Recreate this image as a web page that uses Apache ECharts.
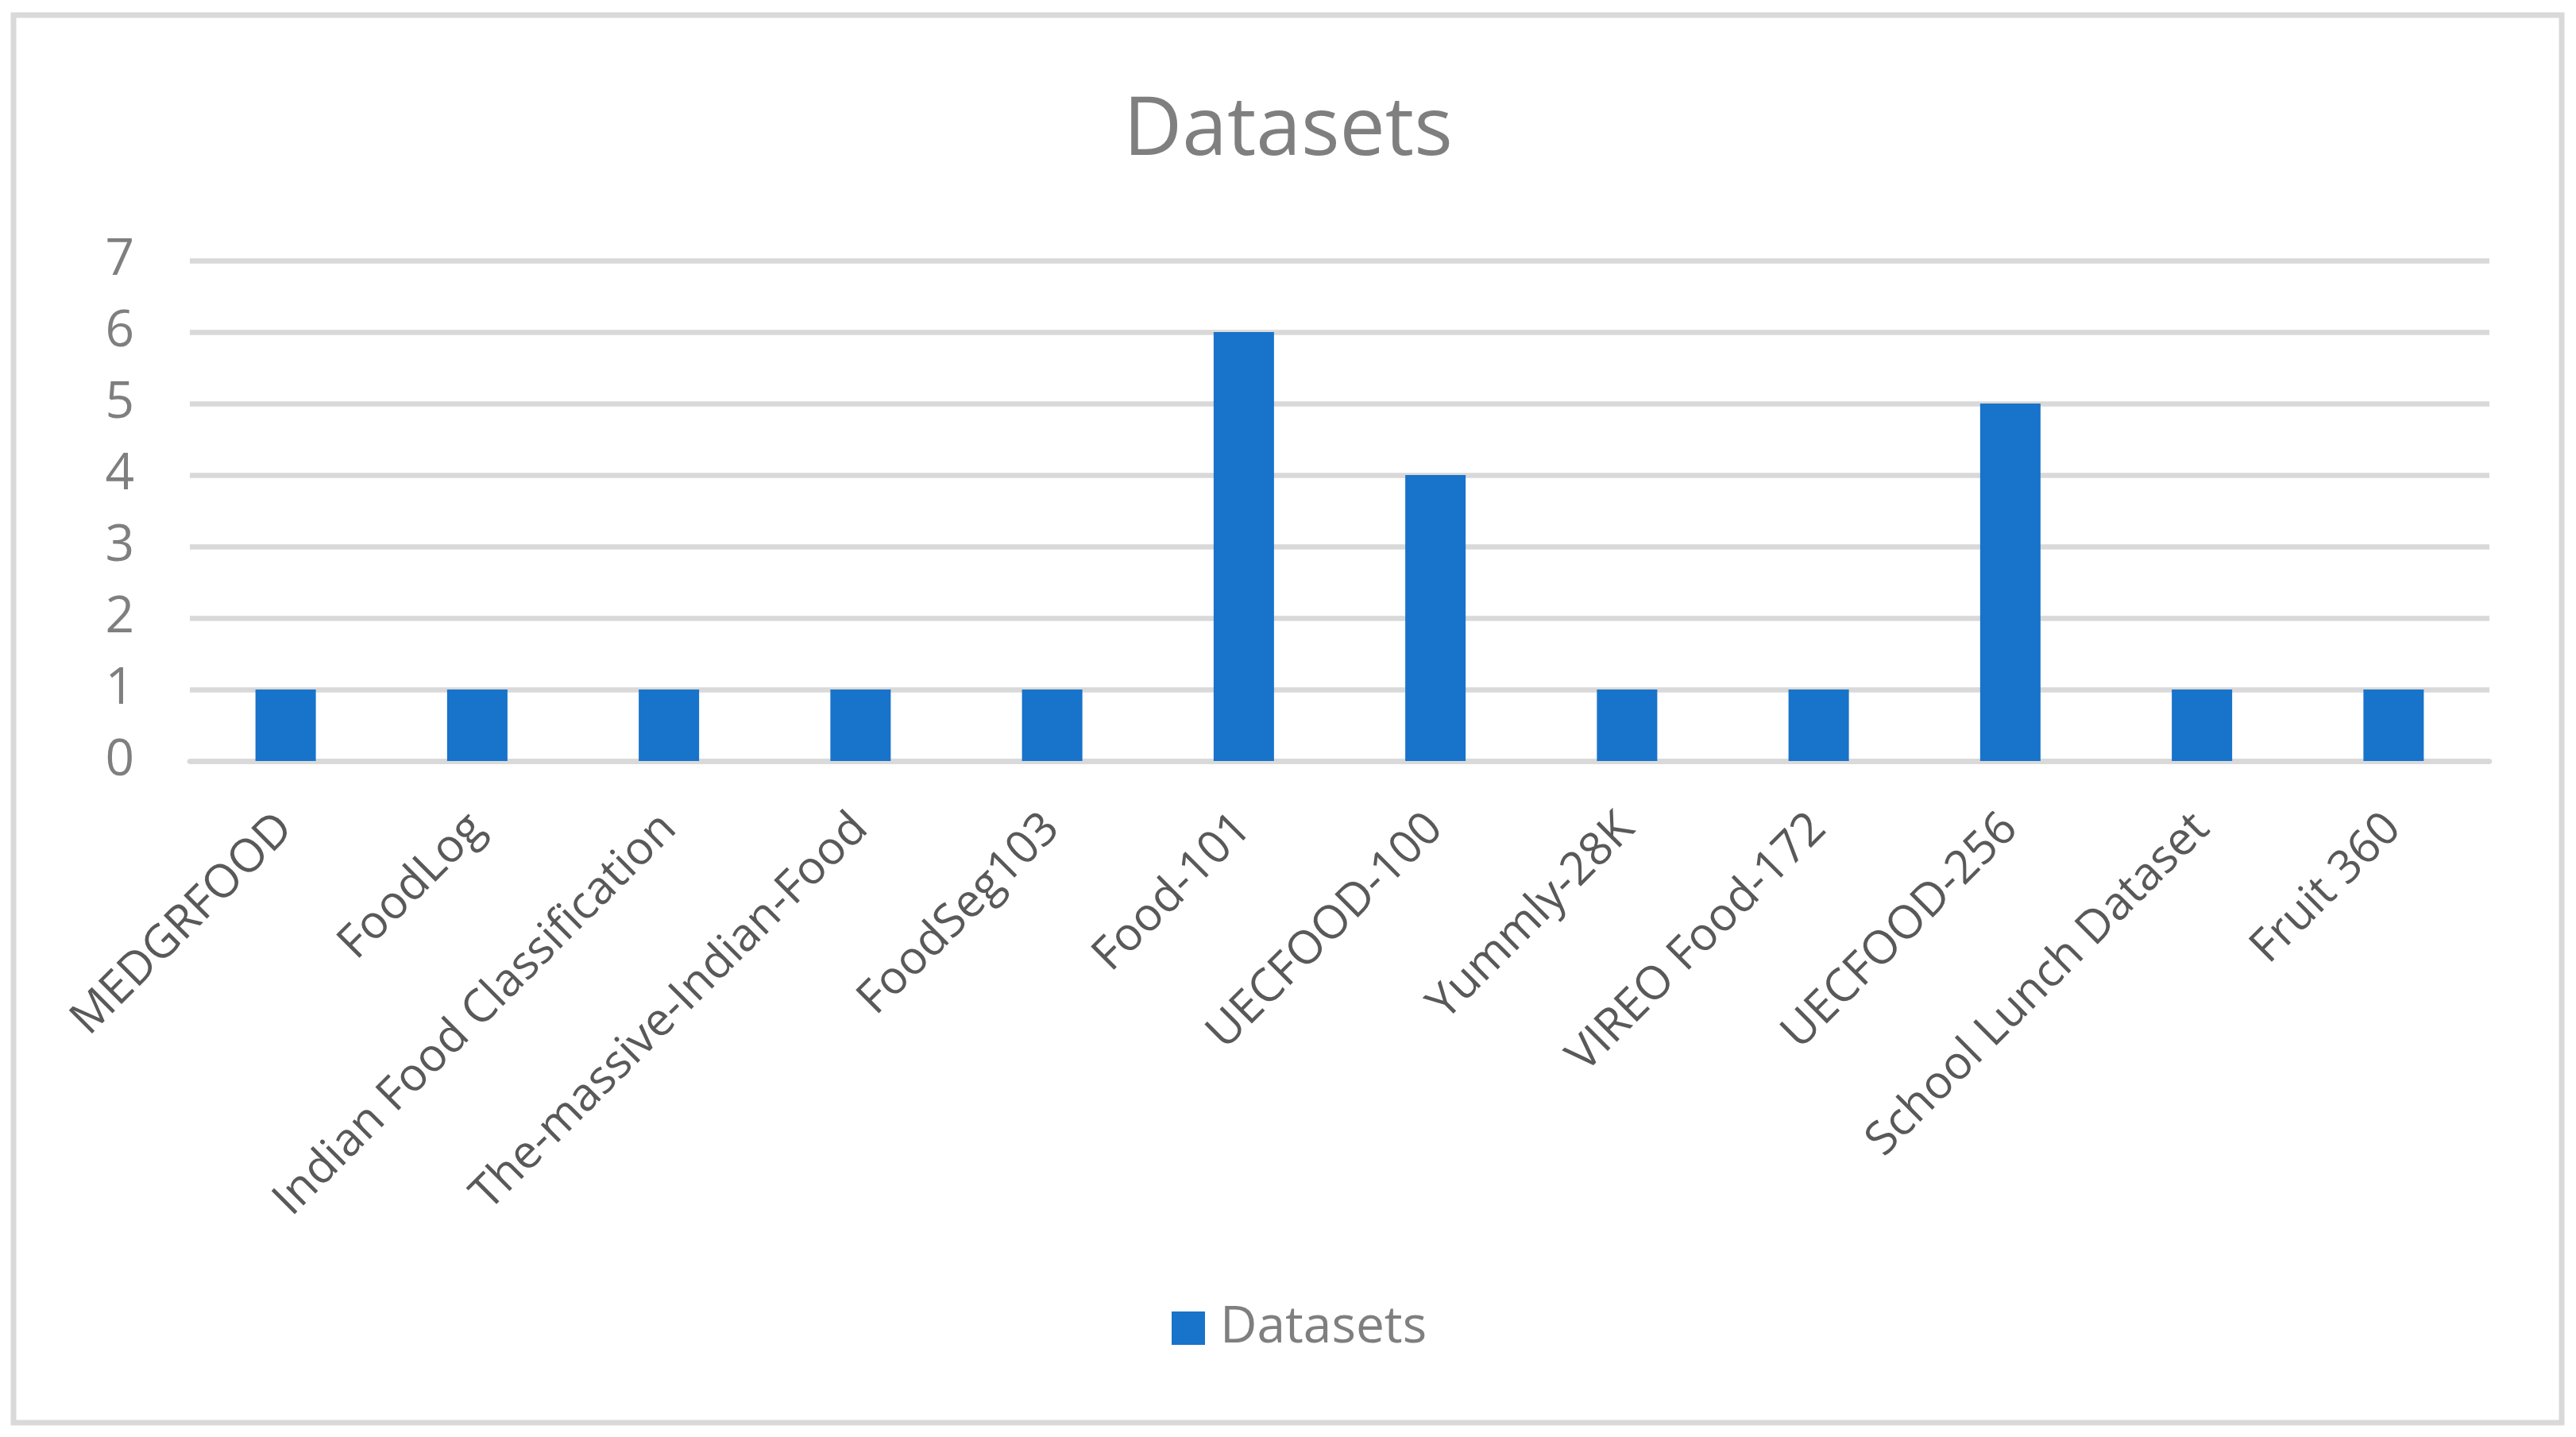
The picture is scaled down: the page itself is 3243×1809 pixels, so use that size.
<!DOCTYPE html>
<html>
<head>
<meta charset="utf-8">
<script src="https://cdn.jsdelivr.net/npm/echarts@6/dist/echarts.min.js"></script>
<style>
html,body{margin:0;padding:0;background:#fff;}
#chart{width:3243px;height:1809px;}
</style>
</head>
<body>
<div id="chart"></div>
<script>
const titleText = 'Datasets';
const seriesName = 'Datasets';
const categories = ['MEDGRFOOD','FoodLog','Indian Food Classification','The-massive-Indian-Food','FoodSeg103','Food-101','UECFOOD-100','Yummly-28K','VIREO Food-172','UECFOOD-256','School Lunch Dataset','Fruit 360'];
const values = [1,1,1,1,1,6,4,1,1,5,1,1];
const yTicks = [0,1,2,3,4,5,6,7];

const chart = echarts.init(document.getElementById('chart'), null, {renderer:'canvas'});
const FONT = '"Open Sans", "Noto Sans", sans-serif';
chart.setOption({
  backgroundColor:'#ffffff',
  animation:false,
  title:{
    text:titleText, left:'center', top:110,
    textStyle:{fontFamily:FONT, fontSize:102, fontWeight:'normal', color:'#7f7f7f'}
  },
  legend:{
    data:[seriesName], bottom:100, left:1470,
    itemWidth:42, itemHeight:42, icon:'rect',
    textStyle:{fontFamily:FONT, fontSize:64, color:'#7f7f7f', padding:[0,0,0,14]}
  },
  grid:{left:239, right:109, top:328, bottom:851, containLabel:false, outerBoundsMode:'none'},
  xAxis:{
    type:'category', data:categories,
    axisLine:{show:true, lineStyle:{color:'#d9d9d9', width:6.5}},
    axisTick:{show:false},
    axisLabel:{rotate:45, interval:0, margin:76, fontFamily:FONT, fontSize:58, color:'#595959'}
  },
  yAxis:{
    type:'value', min:yTicks[0], max:yTicks[yTicks.length-1], interval:1,
    axisLine:{show:false}, axisTick:{show:false},
    axisLabel:{margin:70, fontFamily:FONT, fontSize:64, color:'#7f7f7f'},
    splitLine:{show:true, lineStyle:{color:'#d9d9d9', width:6.5}}
  },
  series:[{
    name:seriesName, type:'bar', data:values, barWidth:76,
    itemStyle:{color:'#1873CA'}
  }],
  graphic:[{
    type:'rect', silent:true, z:-10,
    shape:{x:17, y:19, width:3208, height:1772},
    style:{fill:'none', stroke:'#d9d9d9', lineWidth:7}
  }]
});
</script>
</body>
</html>
